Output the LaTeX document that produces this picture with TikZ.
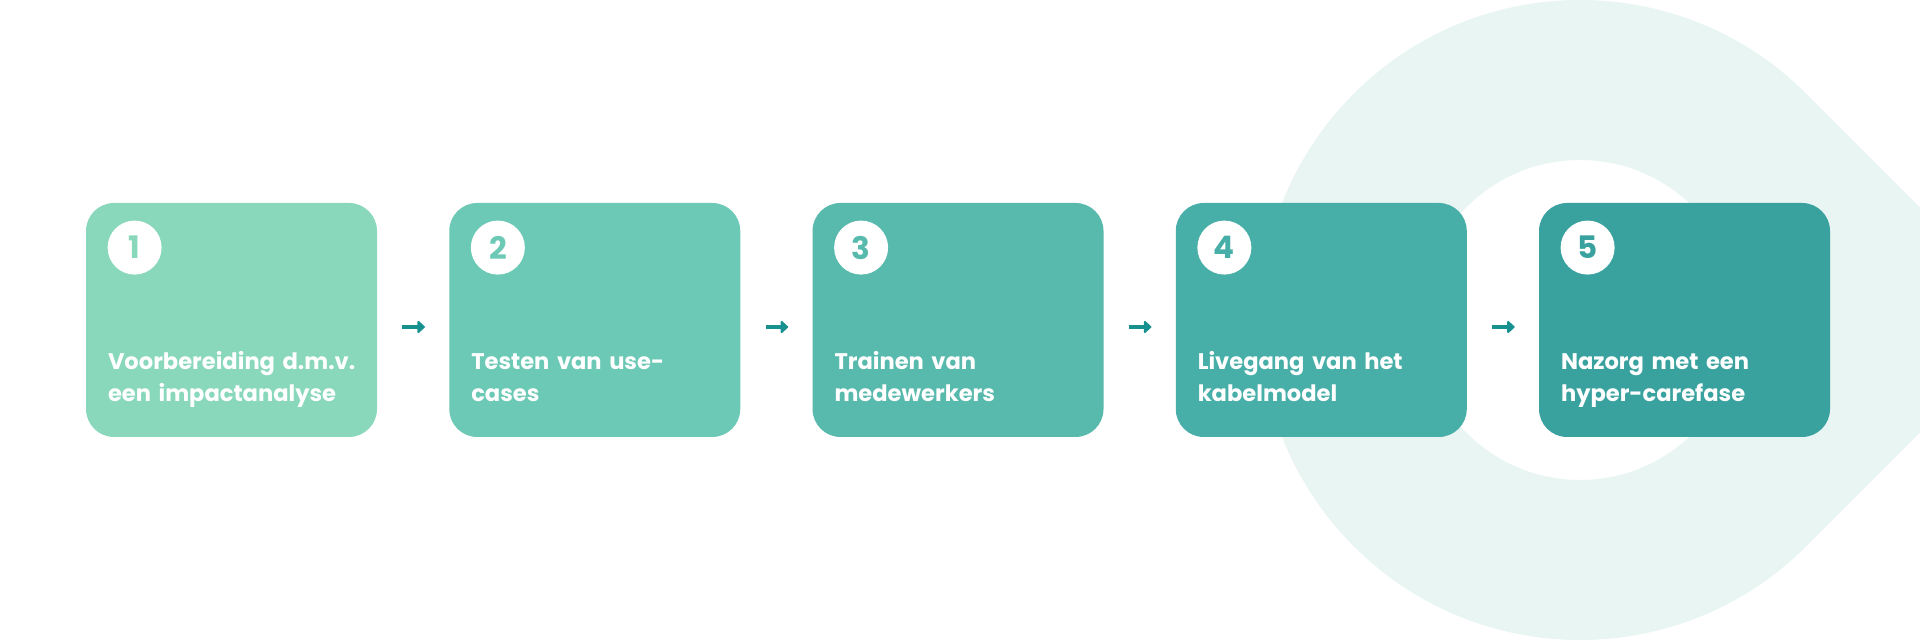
\documentclass[tikz,border=0pt]{standalone}
\usepackage{fontspec}
\setmainfont{Poppins}
\usetikzlibrary{arrows.meta}
\definecolor{bgc}{HTML}{E8F5F2}
\definecolor{cA}{HTML}{89D8BC}
\definecolor{cB}{HTML}{6CC9B6}
\definecolor{cC}{HTML}{58B9AD}
\definecolor{cD}{HTML}{47AEA8}
\definecolor{cE}{HTML}{39A29F}
\definecolor{arrc}{HTML}{17918F}
\tikzset{
  stepbox/.style={rectangle, rounded corners=14pt, minimum width=145.5pt, minimum height=117pt, inner sep=0pt, draw=none},
  numcirc/.style={circle, fill=white, minimum size=27pt, inner sep=0pt, font=\fontsize{15.5pt}{15.5pt}\selectfont\bfseries},
  steptext/.style={anchor=base west, inner sep=0pt, text=white, text width=135pt, align=left, font=\fontsize{11.3pt}{16pt}\selectfont\bfseries},
  flowarrow/.style={draw=arrc, line width=2.3pt, -{Triangle[length=4pt,width=7pt,round]}, shorten <=12.5pt, shorten >=12pt}
}
\begin{document}
\begin{tikzpicture}[x=0.5pt,y=0.5pt]
\useasboundingbox (0,0) rectangle (1920,640);
\begin{scope}
\clip (0,0) rectangle (1920,640);
\fill[bgc, even odd rule] (1806.27,546.27) -- (2032.55,320) -- (1806.27,93.73) arc[start angle=-45,end angle=-315,radius=320] -- cycle (1580,320) circle[radius=160];
\end{scope}
\node[stepbox, fill=cA] (b1) at (231.5,320) {};
\node[stepbox, fill=cB] (b2) at (594.75,320) {};
\node[stepbox, fill=cC] (b3) at (958,320) {};
\node[stepbox, fill=cD] (b4) at (1321.25,320) {};
\node[stepbox, fill=cE] (b5) at (1684.5,320) {};
\node[numcirc, text=cA] (n1) at ([xshift=24.5pt,yshift=-22.5pt]b1.north west) {1};
\node[numcirc, text=cB] (n2) at ([xshift=24.5pt,yshift=-22.5pt]b2.north west) {2};
\node[numcirc, text=cC] (n3) at ([xshift=24.5pt,yshift=-22.5pt]b3.north west) {3};
\node[numcirc, text=cD] (n4) at ([xshift=24.5pt,yshift=-22.5pt]b4.north west) {4};
\node[numcirc, text=cE] (n5) at ([xshift=24.5pt,yshift=-22.5pt]b5.north west) {5};
\node[steptext] (t1) at ([xshift=11pt,yshift=-83.5pt]b1.north west) {Voorbereiding d.m.v.\\een impactanalyse};
\node[steptext] (t2) at ([xshift=11pt,yshift=-83.5pt]b2.north west) {Testen van use-\\cases};
\node[steptext] (t3) at ([xshift=11pt,yshift=-83.5pt]b3.north west) {Trainen van\\medewerkers};
\node[steptext] (t4) at ([xshift=11pt,yshift=-83.5pt]b4.north west) {Livegang van het\\kabelmodel};
\node[steptext] (t5) at ([xshift=11pt,yshift=-83.5pt]b5.north west) {Nazorg met een\\hyper-carefase};
\draw[flowarrow] ([yshift=-3.5pt]b1.east) -- ([yshift=-3.5pt]b2.west);
\draw[flowarrow] ([yshift=-3.5pt]b2.east) -- ([yshift=-3.5pt]b3.west);
\draw[flowarrow] ([yshift=-3.5pt]b3.east) -- ([yshift=-3.5pt]b4.west);
\draw[flowarrow] ([yshift=-3.5pt]b4.east) -- ([yshift=-3.5pt]b5.west);
\end{tikzpicture}
\end{document}
